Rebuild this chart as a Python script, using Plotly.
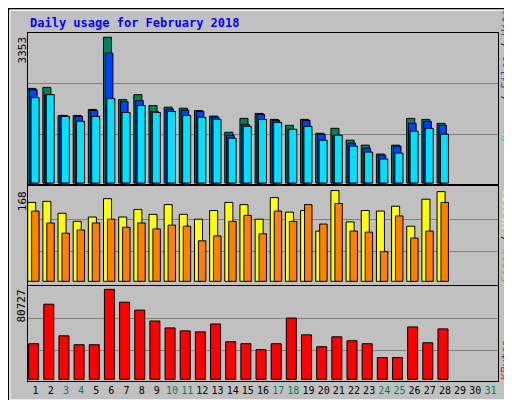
import plotly.graph_objects as go

days = list(range(1, 29))
day_labels = [str(d) for d in range(1, 32)]
weekend = [3, 4, 10, 11, 17, 18, 24, 25, 31]
hits = [2177,2200,1555,1555,1692,3353,1919,2033,1783,1745,1722,1669,1540,1168,1487,1601,1464,1328,1464,1145,1259,986,872,668,872,1487,1464,1373]
files = [2147,2033,1555,1532,1669,2989,1874,1897,1646,1699,1676,1646,1510,1100,1350,1578,1441,1237,1441,1123,1100,918,804,637,850,1373,1419,1328]
pages = [1965,2033,1532,1419,1532,1942,1623,1783,1623,1646,1555,1510,1464,1032,1305,1464,1396,1237,1305,986,1100,850,713,554,690,1191,1259,1123]
visits = [146,148,126,111,119,153,119,133,124,142,124,115,131,146,142,115,155,128,131,93,168,110,131,130,139,102,152,166]
sites = [130,108,89,95,108,115,100,108,97,104,102,75,84,111,122,88,130,111,142,106,144,93,91,55,121,80,93,146]
kbytes = [31936,67420,39032,31049,31049,80727,69194,62097,52339,46130,43468,42581,49678,33710,31936,26613,31936,55000,39920,29274,38145,34597,31936,19516,19516,47016,32823,45242]

BG = "#C0C0C0"
FONT = "DejaVu Sans Mono"
fig = go.Figure()
line = dict(color="black", width=1)

def bar(y, color, off, w, xa, ya):
    fig.add_trace(go.Bar(x=days, y=y, marker=dict(color=color, line=line),
                         offset=off, width=w, xaxis=xa, yaxis=ya, showlegend=False,
                         hoverinfo="skip"))

bar(hits, "#00805C", -0.52, 0.53, "x3", "y3")
bar(files, "#0040FF", -0.40, 0.50, "x3", "y3")
bar(pages, "#00E0FF", -0.30, 0.53, "x3", "y3")
bar(visits, "#FFFF00", -0.52, 0.53, "x2", "y2")
bar(sites, "#FF8000", -0.26, 0.49, "x2", "y2")
bar(kbytes, "#FF0000", -0.46, 0.66, "x", "y")

ticktext = [f"<span style='color:#00805C'>{l}</span>" if int(l) in weekend else l for l in day_labels]
xcommon = dict(range=[0.5, 31.5], showgrid=False, showline=True, linecolor="black",
               mirror=True, zeroline=False, fixedrange=True)
ycommon = dict(showline=True, linecolor="black", mirror=True, zeroline=False,
               gridcolor="#808080", gridwidth=1, showticklabels=False, ticks="")

fig.update_layout(
    width=512, height=400, paper_bgcolor=BG, plot_bgcolor=BG,
    margin=dict(l=20, r=22, t=25, b=23), barmode="overlay",
    font=dict(family=FONT, size=11, color="black"),
    xaxis=dict(**xcommon, anchor="y", tickvals=list(range(1, 32)), ticktext=ticktext, ticks="",
               tickangle=0, tickfont=dict(family=FONT, size=10)),
    xaxis2=dict(**xcommon, anchor="y2", showticklabels=False),
    xaxis3=dict(**xcommon, anchor="y3", showticklabels=False),
    yaxis=dict(**ycommon, domain=[0, 0.2727], range=[-1508, 83655], tickvals=[25727, 55000]),
    yaxis2=dict(**ycommon, domain=[0.2756, 0.5597], range=[-7, 176], tickvals=[55, 115]),
    yaxis3=dict(**ycommon, domain=[0.565, 1], range=[-30, 3451], tickvals=[1124, 2284]),
)

def pa(x, y):
    return (x - 20) / (512 - 42), (377 - y) / 352

tx, ty = pa(20, 15)
fig.add_annotation(x=tx, y=ty, xref="paper", yref="paper", xanchor="left", yanchor="middle",
                   text="<b>Daily usage for February 2018</b>", showarrow=False,
                   font=dict(family=FONT, color="#0000FF", size=12))
for lbl, ytop in [("3353", 27), ("168", 183), ("80727", 283)]:
    x, y = pa(14, ytop)
    fig.add_annotation(x=x, y=y, xref="paper", yref="paper", xanchor="center", yanchor="top",
                       text=lbl, textangle=-90, showarrow=False, font=dict(family=FONT, size=11))
rlabels = [
    ("<span style='color:#00E0FF'>Pages</span> / <span style='color:#0040FF'>Files</span> / <span style='color:#00805C'>Hits</span>", 137),
    ("<span style='color:#FF8000'>Sites</span> / <span style='color:#FFFF00'>Visits</span>", 279),
    ("<span style='color:#FF0000'>KBytes</span>", 378),
]
for txt, ybot in rlabels:
    x, y = pa(506, ybot)
    fig.add_annotation(x=x, y=y, xref="paper", yref="paper", xanchor="right", yanchor="bottom",
                       text=txt, textangle=-90, showarrow=False, font=dict(family=FONT, size=11))

fig.add_shape(type="rect", xref="paper", yref="paper", x0=pa(0,0)[0], x1=pa(511,0)[0],
              y0=pa(0,399)[1], y1=pa(0,0)[1], line=dict(color="black", width=2), layer="below")
fig.add_shape(type="rect", xref="paper", yref="paper", x0=pa(2,0)[0], x1=pa(508,0)[0],
              y0=pa(0,396)[1], y1=pa(0,2)[1], line=dict(color="white", width=1), layer="below")

fig.write_html("out.html")
